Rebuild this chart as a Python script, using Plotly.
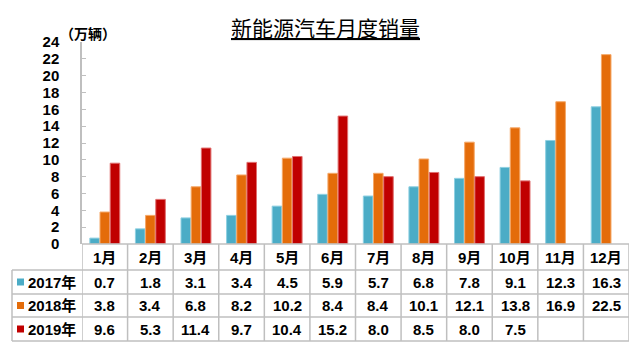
import plotly.graph_objects as go

months = ["1月", "2月", "3月", "4月", "5月", "6月", "7月", "8月", "9月", "10月", "11月", "12月"]
series_names = ["2017年", "2018年", "2019年"]
s2017 = [0.7, 1.8, 3.1, 3.4, 4.5, 5.9, 5.7, 6.8, 7.8, 9.1, 12.3, 16.3]
s2018 = [3.8, 3.4, 6.8, 8.2, 10.2, 8.4, 8.4, 10.1, 12.1, 13.8, 16.9, 22.5]
s2019 = [9.6, 5.3, 11.4, 9.7, 10.4, 15.2, 8.0, 8.5, 8.0, 7.5, None, None]
yticks = [0, 2, 4, 6, 8, 10, 12, 14, 16, 18, 20, 22, 24]

colors = ["#4BACC6", "#E46C0A", "#C00000"]
edges = ["#8FD0E2", "#F5A868", "#E07070"]
series = [s2017, s2018, s2019]

FONT = "Liberation Sans, Arial, Noto Sans CJK SC"
W, H = 640, 351
L, R, T, B = 82, 11, 42, 107
pw, ph = W - L - R, H - T - B

def py(pix):  # pixel y -> paper
    return (H - B - pix) / ph

def px(pix):  # pixel x -> paper
    return (pix - L) / pw

xs = list(range(len(months)))
fig = go.Figure()
for name, vals, c, e in zip(series_names, series, colors, edges):
    fig.add_trace(go.Bar(x=xs, y=vals, name=name, marker=dict(color=c, line=dict(color=e, width=1)),
                         showlegend=False))

shapes = []
grid = dict(color="#BFBFBF", width=1.5)
row_edges = [244, 270, 294, 317, 341]
shapes.append(dict(type="line", xref="paper", yref="paper", x0=0, x1=1, y0=py(244), y1=py(244), line=grid))
for r in row_edges[1:]:
    shapes.append(dict(type="line", xref="paper", yref="paper", x0=px(12), x1=1, y0=py(r), y1=py(r), line=grid))
for i in range(len(months) + 1):
    shapes.append(dict(type="line", xref="x", yref="paper", x0=i - 0.5, x1=i - 0.5,
                       y0=py(244), y1=py(341), line=grid))
shapes.append(dict(type="line", xref="paper", yref="paper", x0=px(12), x1=px(12),
                   y0=py(270), y1=py(341), line=grid))

annotations = []
tf = dict(family=FONT, size=15, color="black", weight="bold")
centers = [(row_edges[k] + row_edges[k + 1]) / 2 for k in range(4)]
for i, m in enumerate(months):
    annotations.append(dict(x=i, y=py(centers[0]), xref="x", yref="paper", text=m, showarrow=False,
                            font=tf, xanchor="center", yanchor="middle"))
for k, (name, vals, c) in enumerate(zip(series_names, series, colors)):
    yc = py(centers[k + 1])
    for i, v in enumerate(vals):
        if v is None:
            continue
        annotations.append(dict(x=i, y=yc, xref="x", yref="paper", text=f"{v:.1f}", showarrow=False,
                                font=tf, xanchor="center", yanchor="middle"))
    annotations.append(dict(x=px(26), y=yc, xref="paper", yref="paper", text=name, showarrow=False,
                            font=tf, xanchor="left", yanchor="middle"))
    shapes.append(dict(type="rect", xref="paper", yref="paper", x0=px(17), x1=px(24),
                       y0=py(centers[k + 1] - 3.5), y1=py(centers[k + 1] + 3.5),
                       fillcolor=c, line=dict(width=0)))

annotations.append(dict(x=px(58), y=py(33), xref="paper", yref="paper", text="（万辆）", showarrow=False,
                        font=dict(family="Noto Sans CJK SC", size=14, color="black", weight="bold"),
                        xanchor="left", yanchor="middle"))
annotations.append(dict(x=px(325), y=py(27), xref="paper", yref="paper", text="新能源汽车月度销量",
                        showarrow=False,
                        font=dict(family="Noto Sans CJK SC", size=21, color="black", lineposition="under"),
                        xanchor="center", yanchor="middle"))

fig.update_layout(
    width=W, height=H, margin=dict(l=L, r=R, t=T, b=B),
    paper_bgcolor="white", plot_bgcolor="white",
    barmode="group", bargap=0.33, bargroupgap=0.06,
    shapes=shapes, annotations=annotations,
    xaxis=dict(range=[-0.5, len(months) - 0.5], showticklabels=False, showgrid=False, zeroline=False,
               showline=False, ticks=""),
    yaxis=dict(range=[0, 24], tickvals=yticks, showgrid=False, zeroline=False, showline=True,
               linecolor="#BFBFBF", linewidth=1.5, ticks="inside", ticklen=4, tickcolor="#BFBFBF",
               ticklabelstandoff=18, tickfont=tf),
)
fig.write_html("out.html")
